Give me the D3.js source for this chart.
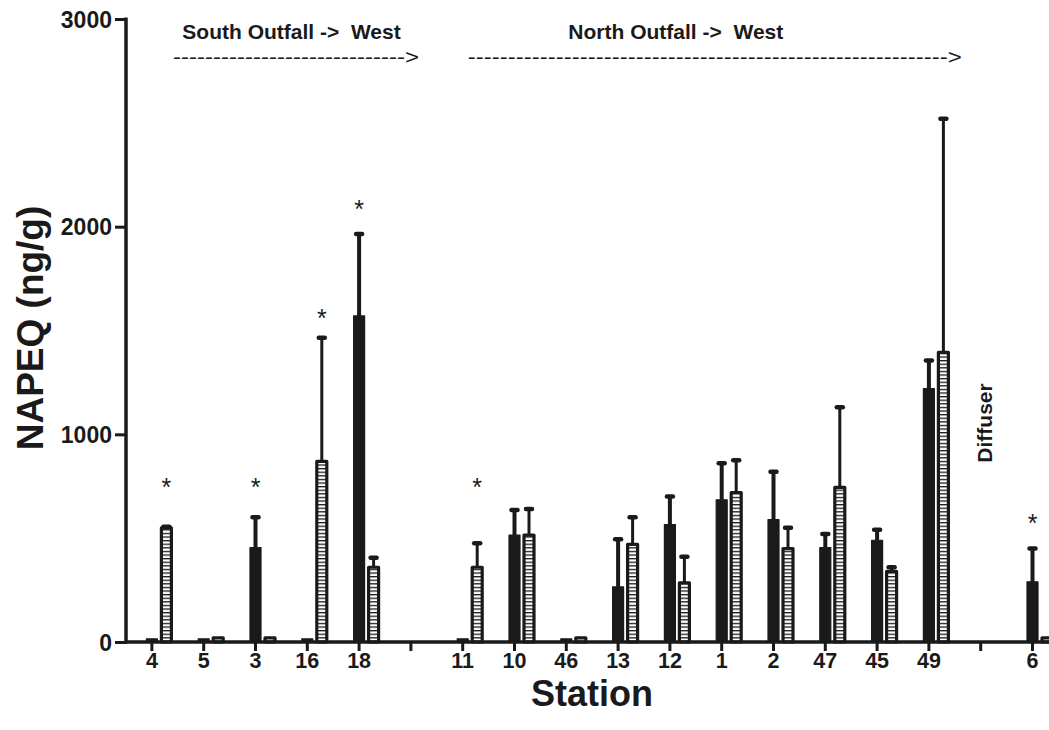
<!DOCTYPE html>
<html>
<head>
<meta charset="utf-8">
<script src="https://cdn.jsdelivr.net/npm/d3@7"></script>
<style>
  html, body { margin: 0; padding: 0; background: #fff; }
  svg { display: block; }
  text { font-family: "Liberation Sans", Arial, sans-serif; font-weight: bold; fill: #1a1a1a; }
</style>
</head>
<body>
<svg id="chart" width="1049" height="730"></svg>
<script>
// ---- data ----
const stations = ["4", "5", "3", "16", "18", "", "11", "10", "46", "13", "12", "1", "2", "47", "45", "49", "", "6"];
const solidMean  = [15, 15, 455, 15, 1570, null, 15, 515, 15, 265, 565, 685, 590, 455, 490, 1220, null, 290];
const solidUpper = [null, null, 605, null, 1970, null, null, 640, null, 500, 705, 865, 825, 525, 545, 1360, null, 455];
const hatchMean  = [550, 20, 20, 870, 360, null, 360, 515, 20, 470, 285, 720, 450, 745, 340, 1395, null, 20];
const hatchUpper = [560, null, null, 1470, 410, null, 480, 645, null, 605, 415, 880, 555, 1135, 365, 2525, null, null];
const yTicks = [0, 1000, 2000, 3000];
// significance stars: station index, series, value level of the star
const starStation = [0, 2, 3, 4, 6, 17];
const starSeries  = ["hatch", "solid", "hatch", "solid", "hatch", "solid"];
const starLevel   = [775, 775, 1590, 2115, 775, 600];
const groupLabels = ["South Outfall ->  West", "North Outfall ->  West"];
const groupArrows = ["----------------------------->", "------------------------------------------------------------>"];
const diffuserLabel = "Diffuser";
const xTitle = "Station";
const yTitle = "NAPEQ (ng/g)";

// ---- layout ----
const svg = d3.select("#chart");
const ink = "#1a1a1a";
const x0 = 126, step = 51.8, y0 = 642, yTop = 19;
const idx = stations.map((d, i) => i);
const x = d3.scaleBand().domain(idx).range([x0, x0 + step * stations.length]).padding(0);
const y = d3.scaleLinear().domain([0, 3000]).range([y0, yTop]);
const cx = i => x(i) + x.bandwidth() / 2;

// pattern for hatched bars
const defs = svg.append("defs");
const pat = defs.append("pattern").attr("id", "ladder").attr("patternUnits", "userSpaceOnUse")
  .attr("width", 20).attr("height", 3.6);
pat.append("rect").attr("width", 20).attr("height", 3.6).attr("fill", "#fff");
pat.append("rect").attr("y", 0).attr("width", 20).attr("height", 1.3).attr("fill", ink);

// series geometry (offset from tick centre)
const series = [
  { key: "solid", mean: solidMean, upper: solidUpper, x1: -5.5, w: 11, fill: ink, stroke: ink, sw: 1.2, errW: 4 },
  { key: "hatch", mean: hatchMean, upper: hatchUpper, x1: 9.5, w: 10, fill: "url(#ladder)", stroke: ink, sw: 3.2, errW: 3 }
];
const seriesCenter = s => s.x1 + s.w / 2;

const gBars = svg.append("g");
series.forEach(s => {
  const data = idx.filter(i => s.mean[i] != null);
  const errData = data.filter(i => s.upper[i] != null);
  gBars.selectAll(null).data(errData).join("line")
    .attr("x1", i => cx(i) + seriesCenter(s)).attr("x2", i => cx(i) + seriesCenter(s))
    .attr("y1", i => y(s.mean[i])).attr("y2", i => y(s.upper[i]))
    .attr("stroke", ink).attr("stroke-width", s.errW);
  gBars.selectAll(null).data(errData).join("line")
    .attr("x1", i => cx(i) + seriesCenter(s) - 3).attr("x2", i => cx(i) + seriesCenter(s) + 3)
    .attr("y1", i => y(s.upper[i]) + 1).attr("y2", i => y(s.upper[i]) + 1)
    .attr("stroke", ink).attr("stroke-width", 4.5).attr("stroke-linecap", "round");
  gBars.selectAll(null).data(data).join("rect")
    .attr("x", i => cx(i) + s.x1)
    .attr("width", s.w)
    .attr("y", i => y(s.mean[i]))
    .attr("height", i => y(0) - y(s.mean[i]))
    .attr("fill", s.fill).attr("stroke", s.stroke).attr("stroke-width", s.sw)
    .attr("stroke-linejoin", "round");
});

// axes
const yAxis = d3.axisLeft(y).tickValues(yTicks).tickFormat(d3.format("d")).tickSize(11).tickSizeOuter(0).tickPadding(3);
const gy = svg.append("g").attr("transform", `translate(${x0},0)`).call(yAxis);
gy.select(".domain").attr("stroke", ink).attr("stroke-width", 3.5).attr("d", `M0,${yTop - 1.5}V${y0 + 1.7}`);
gy.selectAll(".tick line").attr("stroke", ink).attr("stroke-width", 3);
gy.selectAll(".tick text").style("font-size", "23px").attr("fill", ink).attr("dy", "0.36em");

const xAxis = d3.axisBottom(x).tickFormat(i => stations[i]).tickSize(9).tickSizeOuter(0).tickPadding(2);
const gx = svg.append("g").attr("transform", `translate(0,${y0})`).call(xAxis);
gx.select(".domain").attr("stroke", ink).attr("stroke-width", 3.5).attr("d", `M${x0},0H${x0 + step * stations.length}`);
gx.selectAll(".tick line").attr("stroke", ink).attr("stroke-width", 3);
gx.selectAll(".tick text").style("font-size", "21.5px").attr("fill", ink).attr("dy", "0.71em");

// stars
const starFs = 25;
svg.selectAll(null).data(starStation).join("text")
  .attr("x", (d, k) => cx(d) + seriesCenter(series.find(s => s.key === starSeries[k])))
  .attr("y", (d, k) => y(starLevel[k]) + 0.6 * starFs)
  .attr("text-anchor", "middle").style("font-size", starFs + "px").style("font-weight", "normal")
  .text("*");

// group annotations
const groupCenter = [(cx(0) + cx(4)) / 2 + 36, (cx(6) + cx(15)) / 2 - 20];
const arrowStart = [cx(0) + 21, cx(6) + 5];
const arrowEnd = [cx(4) + 60, cx(15) + 33];
svg.selectAll(null).data(groupLabels).join("text")
  .attr("x", (d, k) => groupCenter[k]).attr("y", 39)
  .attr("text-anchor", "middle").style("font-size", "21px").style("white-space", "pre")
  .attr("xml:space", "preserve").text(d => d);
svg.selectAll(null).data(groupArrows).join("text")
  .attr("x", (d, k) => arrowStart[k]).attr("y", 64)
  .attr("textLength", (d, k) => arrowEnd[k] - arrowStart[k]).attr("lengthAdjust", "spacingAndGlyphs")
  .style("font-size", "20px").style("font-weight", "normal").text(d => d);

// diffuser label
svg.append("text")
  .attr("transform", `translate(${cx(16) + 11},${423}) rotate(-90)`)
  .attr("text-anchor", "middle").style("font-size", "21px").text(diffuserLabel);

// axis titles
svg.append("text").attr("x", 592).attr("y", 706).attr("text-anchor", "middle")
  .style("font-size", "36px").text(xTitle);
svg.append("text").attr("transform", "translate(43,328) rotate(-90)").attr("text-anchor", "middle")
  .style("font-size", "37px").text(yTitle);
</script>
</body>
</html>
